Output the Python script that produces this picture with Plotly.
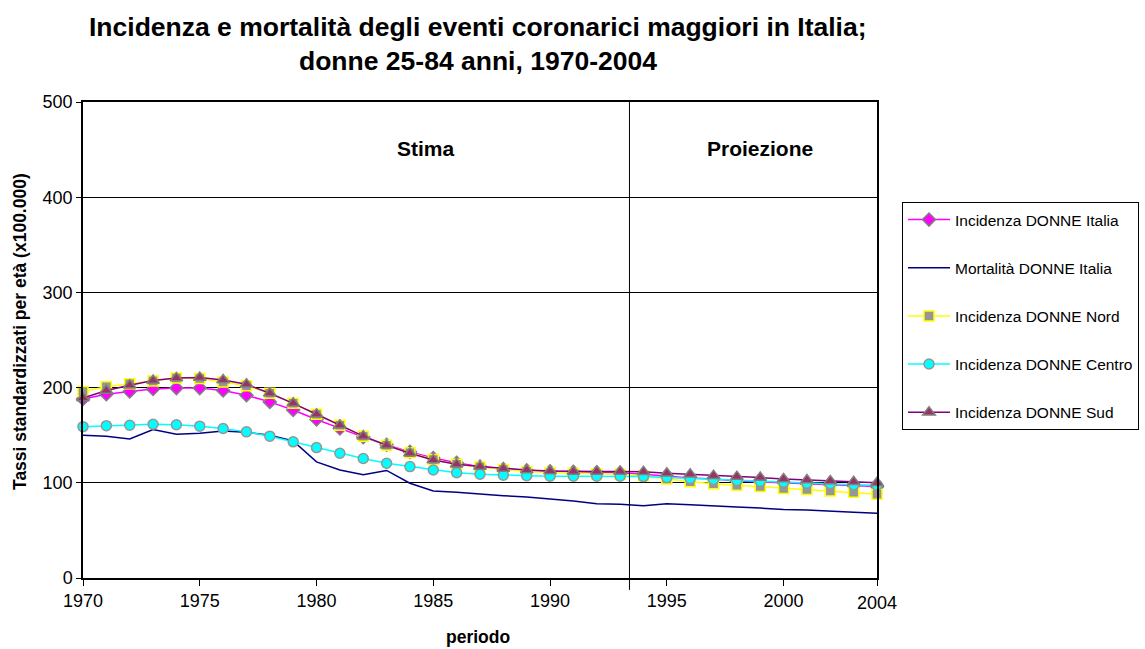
import plotly.graph_objects as go

years = list(range(1970, 2005))

inc_italia = [188, 193, 196, 198.5, 199.5, 199.5, 197, 192, 185, 176.5, 166.5, 157, 148, 140, 132.5,
              126, 121, 117, 114.5, 113, 112, 111.5, 111, 110.5, 109, 107, 105, 104, 102, 101, 100,
              99, 98, 97, 96]
mort_italia = [150, 149, 146, 156, 151, 152, 154.5, 153, 150, 144, 122, 113.5, 108.5, 113, 99.5,
               91.5, 90, 88, 86.5, 85, 83, 81, 78, 77.5, 76, 78, 77, 75.5, 74.5, 73.5, 72,
               71.5, 70, 69, 68]
inc_nord = [196, 201, 204, 207, 210, 209.5, 206, 202, 194, 183.5, 172, 160.5, 149, 139.5, 131.5,
            124.5, 119.5, 116.5, 114, 112, 110.5, 110, 109.5, 109, 107.5, 104, 101, 99, 97.5, 96,
            94, 93, 91.5, 90, 88]
inc_centro = [159, 160, 160.5, 161.5, 161, 159.5, 157, 153.5, 149, 143, 137, 131, 125.5, 120.5, 117,
              113.5, 110.5, 109, 108, 107.5, 107, 107, 107, 107, 106.5, 105.5, 104.5, 103.5, 102.5,
              101.5, 100.5, 99.5, 99, 98, 97.5]
inc_sud = [189, 197, 202.5, 207.5, 210, 210.5, 208, 203.5, 194, 183.5, 172, 160.5, 149, 139.5, 131,
           124, 119.5, 117, 115, 113.5, 112.5, 112, 112, 112, 111.5, 110, 109, 107.5, 106.5, 105.5,
           104, 103, 102, 101, 100]

tick_vals = [1970, 1975, 1980, 1985, 1990, 1995, 2000, 2004]
tick_text = ["1970", "1975", "1980", "1985", "1990", "1995", "2000", ""]
y_ticks = [0, 100, 200, 300, 400, 500]
split_year = 1993.4

FONT = "Liberation Sans, Arial, sans-serif"
PW, PH = 794, 476  # plot area size in px

fig = go.Figure()

fig.add_trace(go.Scatter(
    x=years, y=inc_italia, name="Incidenza DONNE Italia", mode="lines+markers",
    line=dict(color="#FF00FF", width=1.5),
    marker=dict(symbol="diamond", size=10, color="#FF00FF", line=dict(color="#808080", width=1.5)),
    cliponaxis=False, legendgroup="a"))
fig.add_trace(go.Scatter(
    x=years, y=mort_italia, name="Mortalità DONNE Italia", mode="lines",
    line=dict(color="#000080", width=1.5), cliponaxis=False, legendgroup="b"))
fig.add_trace(go.Scatter(
    x=years, y=inc_nord, name="Incidenza DONNE Nord", mode="lines+markers",
    line=dict(color="#FFFF00", width=1.5),
    marker=dict(symbol="square", size=10, color="#969696", line=dict(color="#FFFF00", width=1.5)),
    cliponaxis=False, legendgroup="c"))
fig.add_trace(go.Scatter(
    x=years, y=inc_centro, name="Incidenza DONNE Centro", mode="lines+markers",
    line=dict(color="#00FFFF", width=1.5),
    marker=dict(symbol="circle", size=10, color="#00FFFF", line=dict(color="#969696", width=1.5)),
    cliponaxis=False, legendgroup="d"))
fig.add_trace(go.Scatter(
    x=years, y=inc_sud, name="Incidenza DONNE Sud", mode="lines+markers",
    line=dict(color="#800080", width=1.5),
    marker=dict(symbol="triangle-up", size=11, color="#993366", line=dict(color="#808080", width=1.5)),
    cliponaxis=False, legendgroup="e"))

# projection separator
fig.add_shape(type="line", xref="x", yref="paper", x0=split_year, x1=split_year, y0=-0.025, y1=1,
              line=dict(color="black", width=1))

fig.update_layout(
    width=1145, height=649,
    margin=dict(l=83, r=268, t=102, b=71, autoexpand=False),
    paper_bgcolor="white", plot_bgcolor="white",
    font=dict(family=FONT, size=18, color="black"),
    showlegend=True,
    legend=dict(x=(902 - 83) / PW, y=(578 - 202) / PH, xanchor="left", yanchor="top",
                bordercolor="black", borderwidth=1, bgcolor="white",
                font=dict(family=FONT, size=15.5, color="black"),
                tracegroupgap=25, itemwidth=42),
    xaxis=dict(range=[1970, 2004], tickvals=tick_vals, ticktext=tick_text,
               showgrid=False, zeroline=False, showline=True, linecolor="black", linewidth=1.5,
               mirror=True, ticks="outside", ticklen=6, tickcolor="black",
               tickfont=dict(family=FONT, size=18)),
    yaxis=dict(range=[0, 500], tickvals=y_ticks, showgrid=True, gridcolor="black", gridwidth=1,
               zeroline=False, showline=True, linecolor="black", linewidth=1.5, mirror=True,
               ticks="outside", ticklen=5, tickcolor="black",
               tickfont=dict(family=FONT, size=18)),
    annotations=[
        dict(text="<b>Incidenza e mortalità degli eventi coronarici maggiori in Italia;</b>",
             xref="paper", yref="paper", x=(478 - 83) / PW, y=1.0 + (102 - 27) / PH, xanchor="center",
             yanchor="middle", showarrow=False, font=dict(family=FONT, size=26.5)),
        dict(text="<b>donne 25-84 anni, 1970-2004</b>",
             xref="paper", yref="paper", x=(478 - 83) / PW, y=1.0 + (102 - 61) / PH, xanchor="center",
             yanchor="middle", showarrow=False, font=dict(family=FONT, size=26.5)),
        dict(text="<b>Tassi standardizzati per età (x100.000)</b>", textangle=-90,
             xref="paper", yref="paper", x=(20 - 83) / PW, y=(578 - 332) / PH, xanchor="center",
             yanchor="middle", showarrow=False, font=dict(family=FONT, size=17.5)),
        dict(text="<b>periodo</b>", xref="paper", yref="paper", x=(478 - 83) / PW, y=-(637 - 578) / PH,
             xanchor="center", yanchor="middle", showarrow=False, font=dict(family=FONT, size=17.5)),
        dict(text="<b>Stima</b>", xref="x", yref="y", x=1984.7, y=451, xanchor="center",
             yanchor="middle", showarrow=False, font=dict(family=FONT, size=21)),
        dict(text="<b>Proiezione</b>", xref="x", yref="y", x=1999.0, y=451, xanchor="center",
             yanchor="middle", showarrow=False, font=dict(family=FONT, size=21)),
        dict(text="2004", xref="x", yref="paper", x=2004, y=-(603 - 578) / PH, xanchor="center",
             yanchor="middle", showarrow=False, font=dict(family=FONT, size=18)),
    ],
)

fig.write_html("out.html", config={"displayModeBar": False},
               post_script="document.body.style.margin='0';")
